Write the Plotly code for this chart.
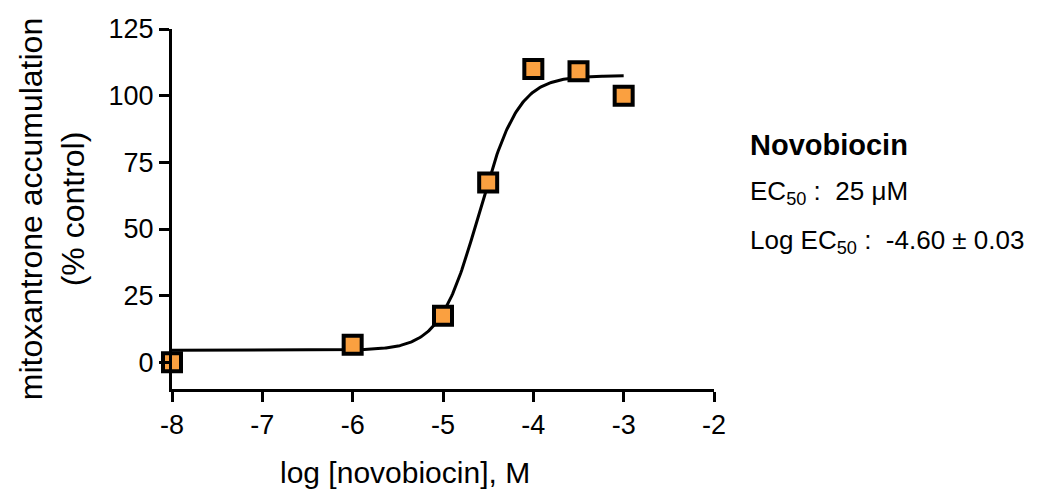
import numpy as np
import plotly.graph_objects as go

# Measured points
log_conc = [-8, -6, -5, -4.5, -4, -3.5, -3]
accumulation = [0, 6.6, 17.5, 67.4, 110, 109.2, 100]

# Four-parameter logistic fit parameters
fit_bottom = 4.5
fit_top = 107.5
fit_log_ec50 = -4.60
fit_hill = 2.0
fit_x_min, fit_x_max = -8, -3

x_tick_vals = [-8, -7, -6, -5, -4, -3, -2]
x_tick_text = ["-8", "-7", "-6", "-5", "-4", "-3", "-2"]
y_tick_vals = [0, 25, 50, 75, 100, 125]
y_tick_text = ["0", "25", "50", "75", "100", "125"]

curve_x = np.linspace(fit_x_min, fit_x_max, 400)
curve_y = fit_bottom + (fit_top - fit_bottom) / (1 + 10 ** ((fit_log_ec50 - curve_x) * fit_hill))

font_family = "Liberation Sans, Arial, sans-serif"

# Plot-area geometry (pixels)
W, H = 1041, 504
ML, MR, MT, MB = 172, 327, 29, 115
plot_w = W - ML - MR
plot_h = H - MT - MB


def px_to_paper(px, py):
    return (px - ML) / plot_w, 1 - (py - MT) / plot_h


fig = go.Figure()
fig.add_trace(go.Scatter(
    x=curve_x, y=curve_y, mode="lines",
    line=dict(color="black", width=3),
    hoverinfo="skip", showlegend=False, cliponaxis=False,
))
fig.add_trace(go.Scatter(
    x=log_conc, y=accumulation, mode="markers",
    marker=dict(symbol="square", size=18, color="#FAA040",
                line=dict(color="black", width=4)),
    showlegend=False, cliponaxis=False,
))

annotations = []

# x-axis title, centred a little left of the plot centre
tx, ty = px_to_paper(405, 472)
annotations.append(dict(
    text="log [novobiocin], M", x=tx, y=ty, xref="paper", yref="paper",
    showarrow=False, xanchor="center", yanchor="middle",
    font=dict(size=30),
))

# Fit summary to the right of the plot
side_text = [
    ("<b>Novobiocin</b>", 145, 29),
    ("EC<sub>50</sub> :  25 μM", 193, 26),
    ("Log EC<sub>50</sub> :  -4.60 ± 0.03", 241, 26),
]
for text, py, size in side_text:
    ax, ay = px_to_paper(748, py)
    annotations.append(dict(
        text=text, x=ax, y=ay, xref="paper", yref="paper",
        showarrow=False, xanchor="left", yanchor="middle",
        font=dict(size=size),
    ))

fig.update_layout(
    width=W, height=H,
    margin=dict(l=ML, r=MR, t=MT, b=MB),
    plot_bgcolor="white", paper_bgcolor="white",
    font=dict(family=font_family, color="black"),
    xaxis=dict(
        range=[-8, -2], tickvals=x_tick_vals, ticktext=x_tick_text,
        showgrid=False, zeroline=False, showline=True,
        linecolor="black", linewidth=3,
        ticks="outside", ticklen=10, tickwidth=3, tickcolor="black",
        tickfont=dict(size=27),
    ),
    yaxis=dict(
        range=[-10, 125], tickvals=y_tick_vals, ticktext=y_tick_text,
        showgrid=False, zeroline=False, showline=True,
        linecolor="black", linewidth=3,
        ticks="outside", ticklen=10, tickwidth=3, tickcolor="black",
        tickfont=dict(size=27),
        title=dict(text="mitoxantrone accumulation<br>(% control)",
                   font=dict(size=32), standoff=15),
    ),
    annotations=annotations,
)

fig.write_html("out.html")
